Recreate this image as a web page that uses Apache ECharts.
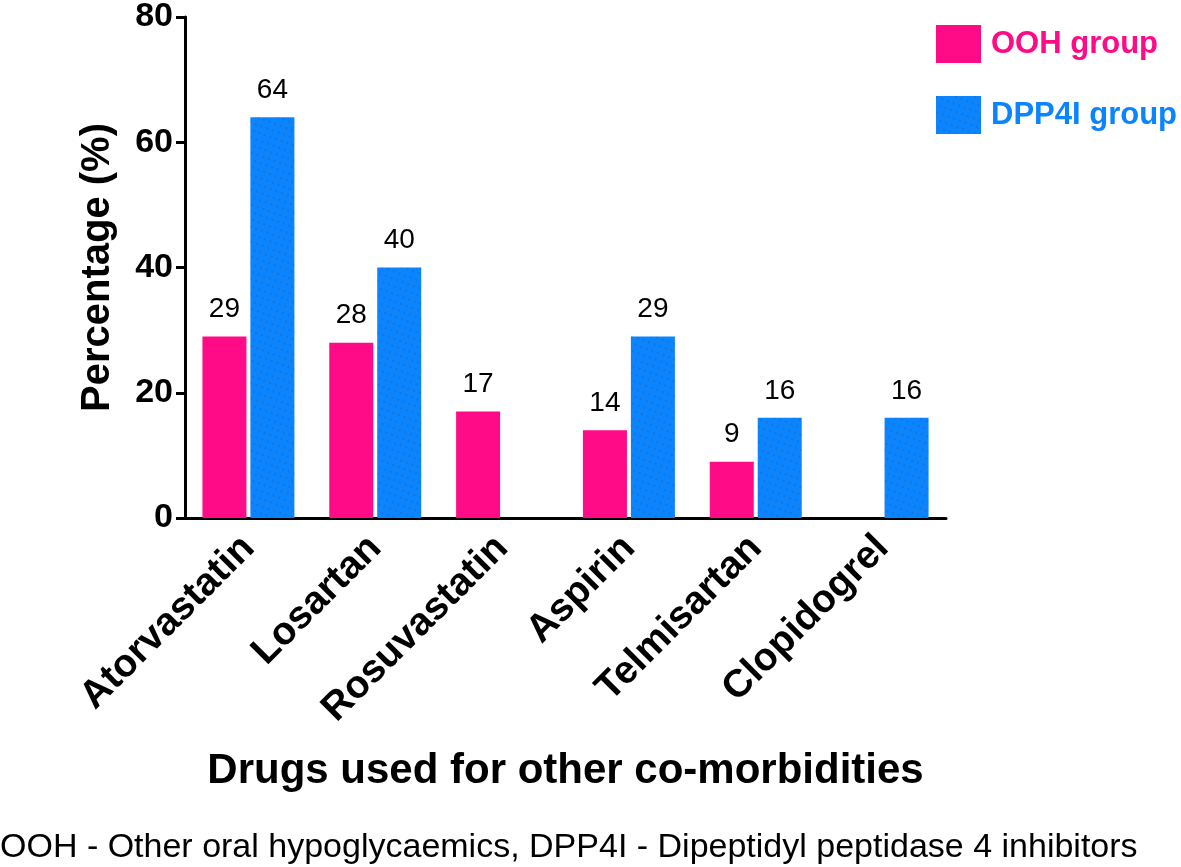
<!DOCTYPE html>
<html><head><meta charset="utf-8">
<script src="https://cdn.jsdelivr.net/npm/echarts@6/dist/echarts.min.js"></script>
<style>html,body{margin:0;padding:0;background:#fff}#c{width:1181px;height:867px}</style>
</head><body><div id="c"></div>
<script>
const categories = ['Atorvastatin','Losartan','Rosuvastatin','Aspirin','Telmisartan','Clopidogrel'];
const oohValues = [29, 28, 17, 14, 9, null];
const dpp4iValues = [64, 40, null, 29, 16, 16];
const yTicks = [0, 20, 40, 60, 80];
const seriesNames = ['OOH group', 'DPP4I group'];
const xAxisTitle = 'Drugs used for other co-morbidities';
const yAxisTitle = 'Percentage (%)';
const footnote = 'OOH - Other oral hypoglycaemics, DPP4I - Dipeptidyl peptidase 4 inhibitors';

const pink = '#FF0A87';
const blue = '#0A84FF';
const font = 'Liberation Sans, Arial, sans-serif';

const dotDecal = {symbol: 'rect', symbolSize: 0.5, color: 'rgba(105,60,25,0.9)', dashArrayX: [2, 4], dashArrayY: [2, 5], rotation: 0.35, symbolKeepAspect: true};

const chart = echarts.init(document.getElementById('c'), null, {renderer: 'canvas'});
const labelCfg = {show: true, position: 'top', distance: 13, color: '#000', fontSize: 28, fontFamily: font};
chart.setOption({
  animation: false,
  backgroundColor: '#fff',
  grid: {left: 185, right: 235, top: 17, bottom: 349, containLabel: false},
  legend: {
    orient: 'vertical', left: 931, top: 20, itemWidth: 45, itemHeight: 38, itemGap: 33,
    icon: 'rect',
    textStyle: {fontSize: 31, fontWeight: 'bold', fontFamily: font, padding: [0, 0, 0, 5]},
    data: [
      {name: seriesNames[0], textStyle: {color: pink}},
      {name: seriesNames[1], textStyle: {color: blue}}
    ]
  },
  xAxis: {
    type: 'category', data: categories,
    name: xAxisTitle, nameLocation: 'middle', nameGap: 232,
    nameTextStyle: {fontSize: 42, fontWeight: 'bold', color: '#000', fontFamily: font},
    axisLine: {lineStyle: {color: '#000', width: 3}},
    axisTick: {alignWithLabel: true, length: 9, lineStyle: {color: '#000', width: 3}},
    axisLabel: {rotate: 45, fontSize: 39, fontWeight: 'bold', color: '#000', fontFamily: font, margin: 24}
  },
  yAxis: {
    type: 'value', min: yTicks[0], max: yTicks[yTicks.length-1], interval: 20,
    name: yAxisTitle, nameLocation: 'middle', nameGap: 67, nameRotate: 90,
    nameTextStyle: {fontSize: 40, fontWeight: 'bold', color: '#000', fontFamily: font},
    axisLine: {show: true, lineStyle: {color: '#000', width: 3}},
    axisTick: {show: true, length: 9, lineStyle: {color: '#000', width: 3}},
    splitLine: {show: false},
    axisLabel: {fontSize: 34, fontWeight: 'bold', color: '#000', fontFamily: font, margin: 12}
  },
  series: [
    {name: seriesNames[0], type: 'bar', data: oohValues, barWidth: 44, barGap: '9%',
     itemStyle: {color: pink}, label: labelCfg},
    {name: seriesNames[1], type: 'bar', data: dpp4iValues, barWidth: 44,
     itemStyle: {color: blue, decal: dotDecal},
     label: labelCfg}
  ],
  graphic: [{type: 'text', left: 0, top: 831, style: {text: footnote, fontSize: 34, fontFamily: font, fill: '#000'}}]
});
</script></body></html>
